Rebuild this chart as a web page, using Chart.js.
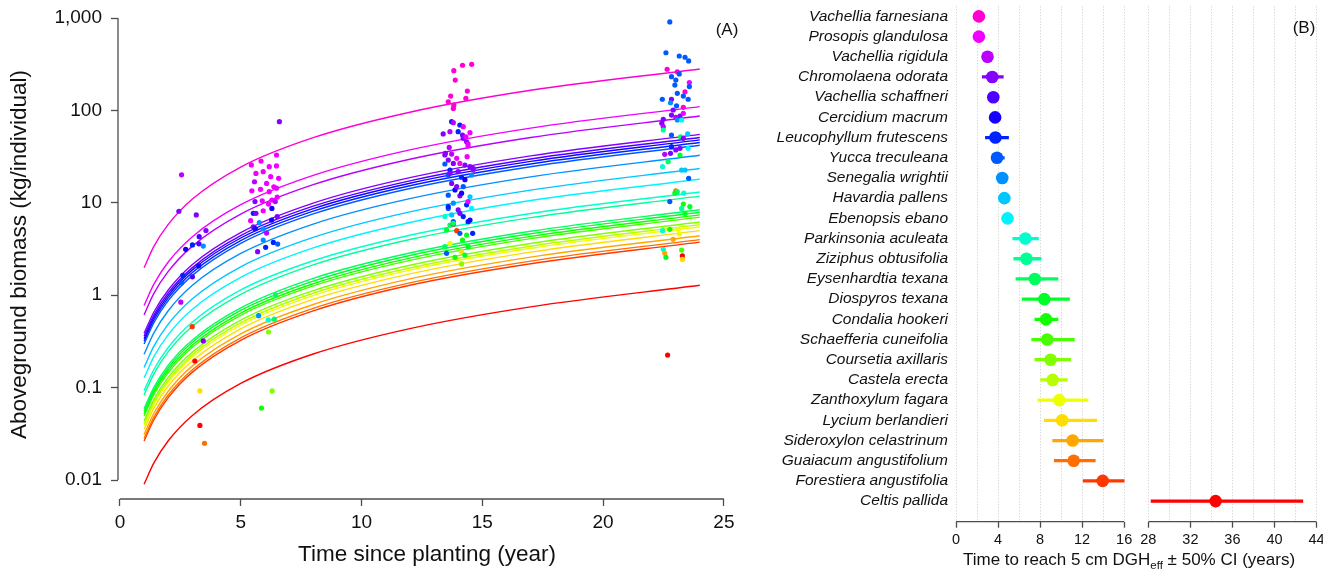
<!DOCTYPE html>
<html>
<head>
<meta charset="utf-8">
<script src="https://cdn.jsdelivr.net/npm/chart.js@4.4.1/dist/chart.umd.min.js"></script>
<style>
  html, body { margin: 0; padding: 0; background: #fff; overflow: hidden; }
  #wrap { position: relative; width: 1323px; height: 570px; overflow: hidden; }
  #panelA { position: absolute; left: 0; top: 0; }
  #panelB { position: absolute; left: 760px; top: 0; }
</style>
</head>
<body>
<div id="wrap">
  <canvas id="panelA" width="760" height="570"></canvas>
  <canvas id="panelB" width="570" height="570"></canvas>
</div>
<script>
/* ============================================================
   Two panels: (A) biomass growth curves + observations (log y)
               (B) time to reach 5 cm DGH_eff, per species
   ============================================================ */

// ---- data -------------------------------------------------------------
const SPECIES = [
  'Vachellia farnesiana', 'Prosopis glandulosa', 'Vachellia rigidula',
  'Chromolaena odorata', 'Vachellia schaffneri', 'Cercidium macrum',
  'Leucophyllum frutescens', 'Yucca treculeana', 'Senegalia wrightii',
  'Havardia pallens', 'Ebenopsis ebano', 'Parkinsonia aculeata',
  'Ziziphus obtusifolia', 'Eysenhardtia texana', 'Diospyros texana',
  'Condalia hookeri', 'Schaefferia cuneifolia', 'Coursetia axillaris',
  'Castela erecta', 'Zanthoxylum fagara', 'Lycium berlandieri',
  'Sideroxylon celastrinum', 'Guaiacum angustifolium',
  'Forestiera angustifolia', 'Celtis pallida',
];

// (A) fitted curves, kg/individual, read at these years
const CURVE_YEARS = [1, 1.4, 2, 3, 5, 8, 12, 17, 24];
const CURVE_MASS = [
  [1.98, 3.35, 5.84, 11.0, 24.4, 50.7, 95.6, 165, 281],
  [0.775, 1.31, 2.29, 4.30, 9.53, 19.8, 37.4, 64.4, 110],
  [0.613, 1.04, 1.81, 3.40, 7.54, 15.7, 29.6, 50.9, 87],
  [0.387, 0.654, 1.14, 2.15, 4.76, 9.91, 18.7, 32.2, 55],
  [0.359, 0.607, 1.06, 1.99, 4.42, 9.19, 17.3, 29.8, 51],
  [0.338, 0.571, 0.997, 1.88, 4.16, 8.65, 16.3, 28.1, 48],
  [0.317, 0.536, 0.935, 1.76, 3.90, 8.12, 15.3, 26.3, 45],
  [0.296, 0.500, 0.873, 1.64, 3.64, 7.58, 14.3, 24.6, 42],
  [0.230, 0.389, 0.679, 1.28, 2.83, 5.89, 11.1, 19.1, 32.7],
  [0.165, 0.279, 0.487, 0.916, 2.03, 4.22, 7.97, 13.7, 23.5],
  [0.127, 0.215, 0.375, 0.705, 1.56, 3.25, 6.13, 10.6, 18],
  [0.0923, 0.156, 0.272, 0.512, 1.14, 2.36, 4.46, 7.67, 13.1],
  [0.0831, 0.140, 0.245, 0.461, 1.02, 2.13, 4.01, 6.91, 11.8],
  [0.0592, 0.100, 0.175, 0.328, 0.728, 1.52, 2.86, 4.92, 8.4],
  [0.0556, 0.094, 0.164, 0.309, 0.684, 1.42, 2.69, 4.62, 7.9],
  [0.0521, 0.0881, 0.154, 0.289, 0.641, 1.33, 2.52, 4.33, 7.4],
  [0.0493, 0.0833, 0.145, 0.274, 0.606, 1.26, 2.38, 4.10, 7.0],
  [0.0437, 0.0738, 0.129, 0.242, 0.537, 1.12, 2.11, 3.63, 6.2],
  [0.0408, 0.069, 0.120, 0.227, 0.502, 1.05, 1.97, 3.39, 5.8],
  [0.0387, 0.0655, 0.114, 0.215, 0.476, 0.991, 1.87, 3.22, 5.5],
  [0.0352, 0.0595, 0.104, 0.195, 0.433, 0.901, 1.70, 2.93, 5.0],
  [0.031, 0.0524, 0.0914, 0.172, 0.381, 0.793, 1.50, 2.58, 4.4],
  [0.0282, 0.0476, 0.0831, 0.156, 0.346, 0.721, 1.36, 2.34, 4.0],
  [0.0264, 0.0446, 0.0779, 0.147, 0.325, 0.676, 1.28, 2.19, 3.75],
  [0.009, 0.0152, 0.0266, 0.05, 0.111, 0.231, 0.435, 0.748, 1.28],
];

// (A) observations: [year, kg, species index]
const OBS_CENSUS_1 = [
  [2.55,20.1,2],[2.44,8.1,3],[3.16,7.4,3],[2.72,3.14,5],[3.00,3.5,6],[3.27,3.6,4],[3.28,4.3,4],
  [3.56,5.0,3],[3.45,3.4,8],[3.26,2.08,5],[2.60,1.64,6],[3.00,1.58,4],[2.55,1.36,7],[2.52,0.84,2],
  [2.99,0.456,23],[3.45,0.32,3],[3.10,0.194,24],[3.31,0.092,20],[3.31,0.039,24],[3.50,0.025,22],
];
const OBS_CENSUS_2 = [
  [6.60,75.5,3],[6.48,32.9,1],[5.44,25.7,1],[5.84,28.3,1],[6.18,24.6,1],[6.48,25.1,1],[5.63,20.8,1],
  [5.93,21.7,1],[6.24,19.2,1],[6.57,18.4,1],[5.57,16.9,2],[6.07,16.2,1],[6.37,14.9,1],[5.82,14.0,1],
  [5.46,13.5,1],[6.48,14.4,1],[6.18,13.2,1],[5.89,10.5,1],[6.29,10.7,1],[6.43,10.3,2],[6.15,9.7,1],
  [6.51,11.5,1],[5.59,10.3,3],[6.29,8.7,5],[5.93,8.2,1],[5.52,7.7,6],[5.63,7.7,3],[6.51,7.1,3],
  [6.28,6.5,5],[5.41,6.4,1],[5.77,6.1,8],[5.52,5.5,3],[5.60,5.25,5],[5.93,5.2,8],[6.07,4.7,2],
  [5.93,3.96,8],[6.35,3.73,6],[6.53,3.58,7],[6.03,3.3,6],[5.70,2.96,3],[5.74,0.6,8],[6.14,0.54,11],
  [6.39,0.55,13],[6.44,1.01,13],[6.15,0.40,17],[6.30,0.092,17],[5.86,0.06,15],
];
const OBS_CENSUS_3 = [
  [14.18,308,0],[14.56,315,0],[13.82,269,0],[13.88,213,0],[13.69,143,0],[14.38,162,0],[14.32,135,0],
  [13.59,124,0],[13.82,114,0],[13.80,105,0],[13.73,75.5,6],[13.80,73.6,2],[14.07,69.5,6],[13.38,55.6,3],
  [13.66,58.9,2],[14.00,58.9,6],[14.18,54.2,3],[14.49,57.4,1],[14.21,49.9,3],[14.35,45.8,3],[14.41,41.2,1],
  [13.63,39.8,2],[13.45,32.9,3],[13.73,33.7,2],[13.94,30.3,1],[13.59,29.0,3],[13.80,26.7,3],[13.45,26.3,7],
  [14.28,25.6,3],[14.49,24.6,3],[13.66,22.6,6],[14.62,22.6,2],[14.00,21.7,3],[13.59,20.0,7],[14.14,18.9,6],
  [14.56,20.0,8],[13.73,16.2,3],[14.21,15.0,7],[13.87,13.8,5],[13.59,12.1,7],[14.07,11.9,3],[14.49,11.6,9],
  [13.80,9.9,8],[14.35,9.5,6],[13.59,8.7,7],[14.00,8.4,3],[14.56,8.7,10],[13.73,7.4,9],[14.21,7.1,6],
  [13.45,7.1,11],[13.80,6.25,7],[14.41,6.25,6],[13.66,5.75,13],[13.80,5.9,24],[13.94,4.99,23],[13.52,5.08,14],
  [14.07,4.68,7],[14.35,4.48,14],[14.60,4.68,6],[14.18,3.96,15],[13.45,3.35,13],[13.66,3.63,19],[14.41,3.35,14],
  [14.14,2.96,20],[13.52,2.84,7],[13.87,2.57,15],[14.28,2.72,14],[14.14,2.18,17],[14.21,66.7,1],[14.32,51.9,1],
  [14.41,43.5,1],[14.37,31.6,1],[13.47,34.3,3],[14.07,26.7,1],[14.62,23.6,3],[13.66,20.9,3],[14.28,17.8,5],
  [13.94,15.0,3],[14.14,12.7,5],[14.41,10.3,1],[13.59,9.1,6],[14.07,7.7,3],[14.49,6.5,5],[13.80,6.0,13],
];
const OBS_CENSUS_4 = [
  [22.76,906,7],[22.60,421,7],[23.15,388,7],[23.39,376,7],[23.54,343,7],[22.65,279,0],[23.07,262,0],
  [23.15,248,7],[22.83,232,7],[23.01,213,7],[23.57,200,1],[22.97,188,7],[23.57,181,7],[23.39,159,0],
  [23.07,153,7],[23.32,143,7],[22.45,132,7],[22.83,132,3],[23.52,132,7],[22.79,121,8],[23.04,112,7],
  [23.32,108,0],[22.90,101,3],[22.83,89,3],[23.18,87,3],[23.01,84,2],[23.32,93,1],[22.49,80,3],
  [23.07,78.7,8],[23.25,78.7,10],[22.43,72.4,3],[22.49,66.7,2],[22.49,61.4,12],[22.83,54.2,7],[23.20,51.9,13],
  [23.50,55.6,9],[23.32,49.9,3],[22.83,40.5,6],[23.18,38.9,3],[23.52,38.9,10],[23.01,37.3,3],[22.79,34.3,3],
  [22.55,33.5,2],[23.18,32.9,14],[22.69,27.9,13],[22.46,24.6,11],[23.25,22.6,9],[23.39,22.6,9],[23.54,18.4,7],
  [23.01,13.5,22],[23.07,13.2,13],[22.97,12.7,14],[23.34,12.7,11],[22.76,10.3,7],[23.32,9.7,15],[23.59,9.1,14],
  [23.25,8.7,12],[23.39,7.7,14],[22.76,5.17,15],[23.11,5.17,19],[22.46,4.99,11],[22.90,4.03,21],[23.15,4.6,19],
  [22.49,3.14,11],[22.55,2.84,21],[22.60,2.57,14],[23.25,3.08,16],[23.28,2.66,24],[23.28,2.44,20],[22.67,0.225,24],
];

// (A) tick labels
const A_X_TICKS = [0, 5, 10, 15, 20, 25];
const A_Y_TICKS = [0.01, 0.1, 1, 10, 100, 1000];
const A_Y_LABELS = ['0.01', '0.1', '1', '10', '100', '1,000'];

// (B) years to reach 5 cm DGH_eff, with 50% CI
const TIME_MEAN = [2.18, 2.18, 3.0, 3.45, 3.55, 3.72, 3.75, 3.9, 4.4, 4.6, 4.9, 6.6, 6.7,
                   7.5, 8.4, 8.57, 8.67, 9.0, 9.2, 9.83, 10.1, 11.1, 11.2, 13.96, 34.4];
const CI_LOW    = [2.0, 2.0, 2.7, 2.5, 3.3, 3.4, 2.8, 3.4, 4.1, 4.3, 4.6, 5.4, 5.5,
                   5.7, 6.3, 7.5, 7.2, 7.5, 8.05, 7.8, 8.4, 9.2, 9.35, 12.1, 28.26];
const CI_HIGH   = [2.4, 2.4, 3.3, 4.5, 3.8, 4.0, 5.0, 4.6, 4.7, 4.9, 5.2, 7.85, 8.1,
                   9.7, 10.8, 9.7, 11.26, 10.9, 10.6, 12.56, 13.4, 14.0, 13.25, 16.0, 42.7];
const B_X_TICKS = [0, 2, 4, 6, 8, 10, 12, 14, 16, 28, 30, 32, 34, 36, 38, 40, 42, 44];

// ---- style ------------------------------------------------------------
const FONT = '"Liberation Sans", Arial, Helvetica, sans-serif';
const TEXT = '#111111';
const AXIS = '#4d4d4d';
const COLORS = [
  '#FF00D4', '#F200FF', '#BB00FF', '#8400FF', '#4D00FF', '#1500FF', '#0022FF',
  '#0059FF', '#0090FF', '#00C8FF', '#00F4FF', '#00FFCC', '#00FF95', '#00FF5E',
  '#00FF26', '#11FF00', '#48FF00', '#80FF00', '#B7FF00', '#EEFF00', '#FFDD00',
  '#FFA600', '#FF6E00', '#FF3700', '#FF0000',
];

// broken x axis in (B): 16 ... 28 squeezed into a small gap
const BREAK_FROM = 16, BREAK_TO = 28, BREAK_GAP = 2.3;
const brk = (v) => (v <= BREAK_FROM ? v : v - BREAK_TO + BREAK_FROM + BREAK_GAP);

/* ------------------------------------------------------------
   Plugins: R-style axis lines (only between end ticks), panel tags
   ------------------------------------------------------------ */
const rAxes = {
  id: 'rAxes',
  afterDraw(chart, args, opts) {
    const { ctx, chartArea, scales } = chart;
    ctx.save();
    ctx.strokeStyle = AXIS;
    ctx.lineWidth = 1.3;
    ctx.beginPath();
    (opts.x || []).forEach(([a, b]) => {
      ctx.moveTo(scales.x.getPixelForValue(a), chartArea.bottom);
      ctx.lineTo(scales.x.getPixelForValue(b), chartArea.bottom);
    });
    (opts.y || []).forEach(([a, b]) => {
      ctx.moveTo(chartArea.left, scales.y.getPixelForValue(a));
      ctx.lineTo(chartArea.left, scales.y.getPixelForValue(b));
    });
    ctx.stroke();
    ctx.restore();
  },
};

const panelTag = {
  id: 'panelTag',
  afterDraw(chart, args, opts) {
    const { ctx } = chart;
    ctx.save();
    ctx.font = `${opts.size}px ${FONT}`;
    ctx.fillStyle = TEXT;
    ctx.textAlign = 'center';
    ctx.textBaseline = 'middle';
    ctx.fillText(opts.text, opts.x, opts.y);
    ctx.restore();
  },
};

// x title of (B) needs a subscript, so it is drawn by hand
const subTitle = {
  id: 'subTitle',
  afterDraw(chart, args, opts) {
    const { ctx } = chart;
    const parts = [
      ['Time to reach 5 cm DGH', 17, 0],
      ['eff', 11.5, 4],
      [' \u00b1 50% CI (years)', 17, 0],
    ];
    ctx.save();
    ctx.fillStyle = TEXT;
    ctx.textBaseline = 'alphabetic';
    ctx.textAlign = 'left';
    const widths = parts.map(([s, size]) => {
      ctx.font = `${size}px ${FONT}`;
      return ctx.measureText(s).width;
    });
    let x = opts.cx - widths.reduce((a, b) => a + b, 0) / 2;
    parts.forEach(([s, size, dy], i) => {
      ctx.font = `${size}px ${FONT}`;
      ctx.fillText(s, x, opts.baseline + dy);
      x += widths[i];
    });
    ctx.restore();
  },
};

const noPad = (s) => { s.paddingLeft = s.paddingRight = s.paddingTop = s.paddingBottom = 0; };

/* ------------------------------------------------------------
   Panel A
   ------------------------------------------------------------ */
const observations = [...OBS_CENSUS_1, ...OBS_CENSUS_2, ...OBS_CENSUS_3, ...OBS_CENSUS_4];

const curveSets = CURVE_MASS.map((row, s) => ({
  type: 'line',
  data: row.map((m, k) => ({ x: CURVE_YEARS[k], y: m })),
  borderColor: COLORS[s],
  borderWidth: 1.4,
  pointRadius: 0,
  cubicInterpolationMode: 'monotone',
  order: 2,
}));

new Chart(document.getElementById('panelA'), {
  type: 'scatter',
  data: {
    datasets: [
      {
        type: 'scatter',
        data: observations.map(([t, m]) => ({ x: t, y: m })),
        pointBackgroundColor: observations.map((o) => COLORS[o[2]]),
        pointRadius: 2.6,
        pointBorderWidth: 0,
        order: 1,
      },
      ...curveSets,
    ],
  },
  options: {
    responsive: false,
    devicePixelRatio: 1,
    animation: false,
    events: [],
    layout: { padding: { left: 0, top: 10, right: 24, bottom: 0 } },
    plugins: {
      legend: { display: false },
      tooltip: { enabled: false },
      rAxes: { x: [[0, 25]], y: [[0.01, 1000]] },
      panelTag: { text: '(A)', x: 727, y: 30, size: 17 },
    },
    scales: {
      x: {
        type: 'linear', min: -0.08, max: 25.5, offset: false,
        afterBuildTicks: (s) => { s.ticks = A_X_TICKS.map((v) => ({ value: v })); },
        afterFit: (s) => { s.height = 71; noPad(s); },
        grid: { drawOnChartArea: false, drawTicks: true, tickLength: 7, tickColor: AXIS, tickWidth: 1.3 },
        border: { display: false },
        ticks: { font: { family: FONT, size: 19 }, color: TEXT, padding: 5, maxRotation: 0, autoSkip: false },
        title: {
          display: true, text: 'Time since planting (year)',
          font: { family: FONT, size: 22.5 }, color: TEXT, padding: { top: 0, bottom: 2 },
        },
      },
      y: {
        type: 'logarithmic', min: 0.006229, max: 1221, offset: false,
        afterBuildTicks: (s) => { s.ticks = A_Y_TICKS.map((v) => ({ value: v })); },
        afterFit: (s) => { s.width = 118; noPad(s); },
        grid: { drawOnChartArea: false, drawTicks: true, tickLength: 7, tickColor: AXIS, tickWidth: 1.3 },
        border: { display: false },
        ticks: {
          callback: (v, i) => A_Y_LABELS[i],
          font: { family: FONT, size: 19 }, color: TEXT, padding: 9, autoSkip: false,
        },
        title: {
          display: true, text: 'Aboveground biomass (kg/individual)',
          font: { family: FONT, size: 22.5 }, color: TEXT, padding: { top: 6, bottom: 0 },
        },
      },
    },
  },
  plugins: [rAxes, panelTag],
});

/* ------------------------------------------------------------
   Panel B
   ------------------------------------------------------------ */
new Chart(document.getElementById('panelB'), {
  type: 'scatter',
  data: {
    datasets: [
      {
        type: 'scatter',
        data: TIME_MEAN.map((v, i) => ({ x: brk(v), y: i })),
        pointBackgroundColor: COLORS,
        pointRadius: 6.3,
        pointBorderWidth: 0,
        order: 1,
      },
      {
        type: 'bar',
        indexAxis: 'y',
        data: CI_LOW.map((lo, i) => ({ x: [brk(lo), brk(CI_HIGH[i])], y: i })),
        backgroundColor: COLORS,
        barThickness: 2.6,
        borderWidth: 0,
        order: 2,
      },
    ],
  },
  options: {
    responsive: false,
    devicePixelRatio: 1,
    animation: false,
    events: [],
    layout: { padding: { left: 0, top: 4.16, right: 13.5, bottom: 0 } },
    plugins: {
      legend: { display: false },
      tooltip: { enabled: false },
      rAxes: { x: [[0, BREAK_FROM], [brk(BREAK_TO), brk(44)]] },
      panelTag: { text: '(B)', x: 544, y: 28.5, size: 17 },
      subTitle: { cx: 369, baseline: 565 },
    },
    scales: {
      x: {
        type: 'linear', min: 0, max: brk(44), offset: false,
        afterBuildTicks: (s) => { s.ticks = B_X_TICKS.map((v) => ({ value: brk(v) })); },
        afterFit: (s) => { s.height = 48.3; noPad(s); },
        grid: {
          drawOnChartArea: true, color: '#c8c8c8', lineWidth: 1,
          drawTicks: true, tickLength: 6, tickWidth: 1.3,
          tickColor: (c) => (B_X_TICKS[c.index] % 4 === 0 ? AXIS : 'rgba(0,0,0,0)'),
        },
        border: { display: false, dash: [1, 2] },
        ticks: {
          callback: (v, i) => (B_X_TICKS[i] % 4 === 0 ? String(B_X_TICKS[i]) : ''),
          font: { family: FONT, size: 14.5 }, color: TEXT, padding: 3.6, maxRotation: 0, autoSkip: false,
        },
      },
      y: {
        type: 'linear', reverse: true, min: -0.5, max: 25.02, offset: false,
        afterBuildTicks: (s) => { s.ticks = SPECIES.map((_, i) => ({ value: i })); },
        afterFit: (s) => { s.width = 196; noPad(s); },
        grid: { display: false },
        border: { display: false },
        ticks: {
          callback: (v) => SPECIES[v],
          font: { family: FONT, size: 15.5, style: 'italic' }, color: TEXT, padding: 0, autoSkip: false,
        },
      },
    },
  },
  plugins: [rAxes, panelTag, subTitle],
});
</script>
</body>
</html>
